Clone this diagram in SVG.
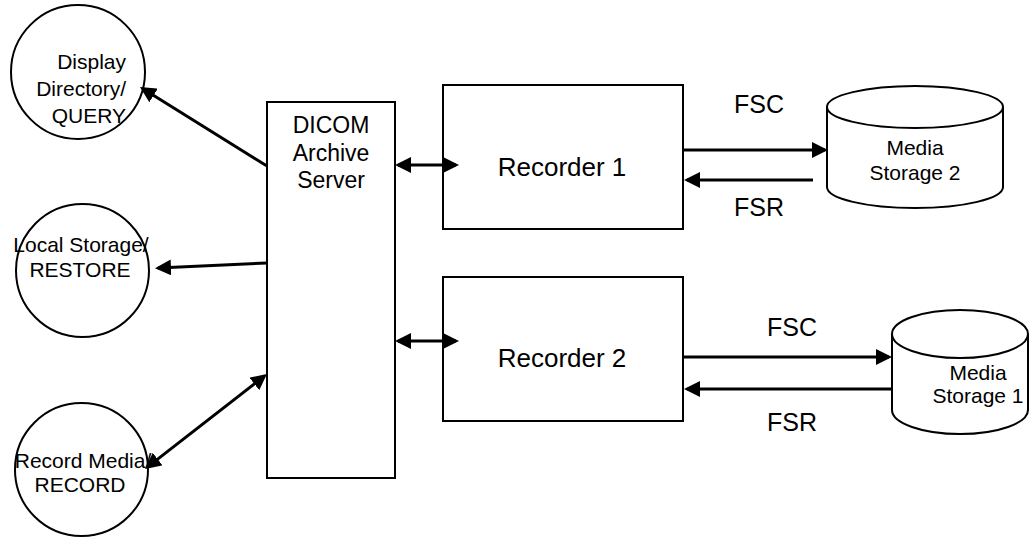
<svg xmlns="http://www.w3.org/2000/svg" width="1031" height="540" viewBox="0 0 1031 540">
<style>
.shape{fill:#fff;stroke:#000;stroke-width:2}
.t{font-family:"Liberation Sans",Arial,sans-serif;fill:#000}
.c{font-size:21px}
.d{font-size:23px;text-anchor:middle}
.r{font-size:26px;text-anchor:middle}
.f{font-size:25px}
.m{font-size:21px;text-anchor:middle}
.con line{stroke:#000;stroke-width:3;fill:none}
</style>
<defs>
<marker id="ah" viewBox="0 0 16 16" refX="13" refY="8" markerWidth="16" markerHeight="16" markerUnits="userSpaceOnUse" orient="auto-start-reverse">
<path d="M0,0 L16,8 L0,16 z" fill="#000"/>
</marker>
</defs>
<rect width="1031" height="540" fill="#fff"/>

<g id="display">
<circle class="shape" cx="78" cy="72" r="67"/>
<text class="t c" text-anchor="end" x="126" y="69">Display</text>
<text class="t c" text-anchor="end" x="126" y="96">Directory/</text>
<text class="t c" text-anchor="end" x="126" y="123">QUERY</text>
</g>
<g id="local">
<circle class="shape" cx="82.5" cy="270.5" r="66.5"/>
<text class="t c" text-anchor="middle" x="81" y="252">Local Storage/</text>
<text class="t c" text-anchor="middle" x="80" y="277">RESTORE</text>
</g>
<g id="record">
<circle class="shape" cx="81.5" cy="469.5" r="66.5"/>
<text class="t c" text-anchor="middle" x="83" y="468">Record Media/</text>
<text class="t c" text-anchor="middle" x="80" y="492">RECORD</text>
</g>
<g id="dicom">
<rect class="shape" x="267" y="102" width="128" height="376"/>
<text class="t d" x="331" y="133">DICOM</text>
<text class="t d" x="331" y="161">Archive</text>
<text class="t d" x="331" y="188">Server</text>
</g>
<g id="recorder1">
<rect class="shape" x="443" y="85" width="240" height="144"/>
<text class="t r" x="562" y="176">Recorder 1</text>
</g>
<g id="recorder2">
<rect class="shape" x="443" y="277" width="240" height="144"/>
<text class="t r" x="562" y="367">Recorder 2</text>
</g>
<g id="storage2">
<path class="shape" d="M827,107 L827,187 A88,21 0 0 0 1003,187 L1003,107"/>
<ellipse class="shape" cx="915" cy="107" rx="88" ry="21"/>
<text class="t m" x="915" y="155">Media</text>
<text class="t m" x="915" y="180">Storage 2</text>
</g>
<g id="storage1">
<path class="shape" d="M892,334 L892,410 A68,24 0 0 0 1028,410 L1028,334"/>
<ellipse class="shape" cx="960" cy="334" rx="68" ry="24"/>
<text class="t m" x="978" y="380">Media</text>
<text class="t m" x="978" y="403">Storage 1</text>
</g>

<g id="connectors" class="con">
<line x1="267" y1="166" x2="142.5" y2="88.6" marker-end="url(#ah)"/>
<line x1="267" y1="263" x2="158" y2="268" marker-end="url(#ah)"/>
<line x1="147.4" y1="467.1" x2="264.6" y2="375.9" marker-start="url(#ah)" marker-end="url(#ah)"/>
<line x1="398" y1="165" x2="456" y2="165" marker-start="url(#ah)" marker-end="url(#ah)"/>
<line x1="398" y1="341" x2="456" y2="341" marker-start="url(#ah)" marker-end="url(#ah)"/>
<line x1="683" y1="150" x2="825" y2="150" marker-end="url(#ah)"/>
<line x1="813" y1="180" x2="687" y2="180" marker-end="url(#ah)"/>
<line x1="683" y1="357" x2="889" y2="357" marker-end="url(#ah)"/>
<line x1="892" y1="389" x2="687" y2="389" marker-end="url(#ah)"/>
</g>
<g id="labels">
<text class="t f" x="734" y="113">FSC</text>
<text class="t f" x="734" y="216">FSR</text>
<text class="t f" x="767" y="336">FSC</text>
<text class="t f" x="767" y="431">FSR</text>
</g>
</svg>
